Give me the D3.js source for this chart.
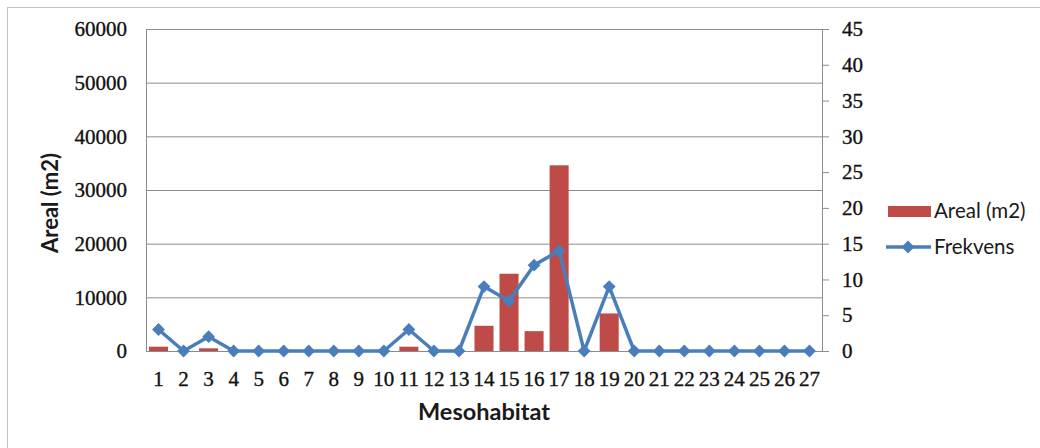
<!DOCTYPE html>
<html>
<head>
<meta charset="utf-8">
<script src="https://cdn.jsdelivr.net/npm/d3@7/dist/d3.min.js"></script>
<style>
  html, body { margin: 0; padding: 0; background: #fff; }
  svg { display: block; }
</style>
</head>
<body>
<svg id="chart" width="1040" height="448"></svg>
<script>
// Mesohabitat categories 1..27
const categories = ["1","2","3","4","5","6","7","8","9","10","11","12","13","14","15","16","17","18","19","20","21","22","23","24","25","26","27"];
// Area per mesohabitat (m2) - bars, left axis
const areal = [800,0,500,0,0,0,0,0,0,0,800,0,0,4700,14400,3700,34600,0,7000,0,0,0,0,0,0,0,0];
// Frequency per mesohabitat - line, right axis
const frekvens = [3,0,2,0,0,0,0,0,0,0,3,0,0,9,7,12,14,0,9,0,0,0,0,0,0,0,0];
// Axis tick values
const leftTicks = [0,10000,20000,30000,40000,50000,60000];
const rightTicks = [0,5,10,15,20,25,30,35,40,45];

const svg = d3.select("#chart");
const plot = { left: 146, right: 822, top: 29, bottom: 351 };

const barColor = "#be4b48";
const lineColor = "#4a7ebb";
const gridColor = "#8c8c8c";
const tickFont = "'Liberation Serif', serif";
const titleFont = "Lato, 'Open Sans', sans-serif";

// outer chart frame
svg.append("rect")
  .attr("x", 7.5).attr("y", 7.5)
  .attr("width", 1045).attr("height", 460)
  .attr("fill", "#fff").attr("stroke", "#c4c4c4").attr("stroke-width", 1);

const x = d3.scaleBand()
  .domain(categories)
  .range([plot.left, plot.right])
  .paddingInner(0.24)
  .paddingOuter(0.12);

const yL = d3.scaleLinear().domain([0, 60000]).range([plot.bottom, plot.top]);
const yR = d3.scaleLinear().domain([0, 45]).range([plot.bottom, plot.top]);

// tick label styling shared by all three axes
const styleTicks = sel => sel
  .attr("font-family", tickFont).attr("font-size", 21)
  .attr("fill", "#111").attr("stroke", "#111").attr("stroke-width", 0.35);

// horizontal gridlines at left-axis ticks
svg.append("g")
  .attr("transform", `translate(${plot.left},0)`)
  .call(d3.axisLeft(yL).tickValues(leftTicks).tickSize(-(plot.right - plot.left)).tickFormat(""))
  .call(g => g.select(".domain").remove())
  .call(g => g.selectAll("line").attr("stroke", gridColor).attr("stroke-width", 1));

// bars
svg.append("g").selectAll("rect")
  .data(categories)
  .join("rect")
  .attr("x", d => x(d))
  .attr("width", x.bandwidth())
  .attr("y", (d, i) => yL(areal[i]))
  .attr("height", (d, i) => yL(0) - yL(areal[i]))
  .attr("fill", barColor);

// left axis
const gL = svg.append("g")
  .attr("transform", `translate(${plot.left},0)`)
  .call(d3.axisLeft(yL).tickValues(leftTicks).tickSize(0).tickPadding(19).tickFormat(d3.format("d")));
gL.select(".domain").attr("stroke", gridColor);
styleTicks(gL.selectAll("text"));

// right axis
const gR = svg.append("g")
  .attr("transform", `translate(${plot.right},0)`)
  .call(d3.axisRight(yR).tickValues(rightTicks).tickSize(7).tickPadding(13));
gR.select(".domain").attr("stroke", gridColor);
gR.selectAll("line").attr("stroke", gridColor);
styleTicks(gR.selectAll("text"));

// bottom axis
const gB = svg.append("g")
  .attr("transform", `translate(0,${plot.bottom})`)
  .call(d3.axisBottom(x).tickSize(0).tickPadding(20));
gB.select(".domain").attr("stroke", gridColor);
styleTicks(gB.selectAll("text"));

// frequency line
const cx = d => x(d) + x.bandwidth() / 2;
const line = d3.line()
  .x((d, i) => cx(categories[i]))
  .y(d => yR(d));
svg.append("path")
  .datum(frekvens)
  .attr("d", line)
  .attr("fill", "none")
  .attr("stroke", lineColor)
  .attr("stroke-width", 3.5)
  .attr("stroke-linejoin", "round");

const diamond = d3.symbol().type(d3.symbolDiamond2).size(105);
svg.append("g").selectAll("path")
  .data(frekvens)
  .join("path")
  .attr("d", diamond)
  .attr("transform", (d, i) => `translate(${cx(categories[i])},${yR(d)})`)
  .attr("fill", lineColor);

// axis titles
svg.append("text")
  .attr("transform", `translate(58,${(plot.top + plot.bottom) / 2 + 13}) rotate(-90)`)
  .attr("text-anchor", "middle")
  .attr("font-family", titleFont).attr("font-weight", 700).attr("font-size", 22)
  .attr("fill", "#1a1a1a")
  .text("Areal (m2)");

svg.append("text")
  .attr("x", (plot.left + plot.right) / 2)
  .attr("y", 420)
  .attr("text-anchor", "middle")
  .attr("font-family", titleFont).attr("font-weight", 700).attr("font-size", 23.5)
  .attr("fill", "#1a1a1a")
  .text("Mesohabitat");

// legend
const legend = svg.append("g").attr("font-family", titleFont).attr("font-size", 20.5).attr("fill", "#1a1a1a");
legend.append("rect").attr("x", 888).attr("y", 206).attr("width", 43).attr("height", 11).attr("fill", barColor);
legend.append("text").attr("x", 934).attr("y", 211).attr("dy", "0.35em").text("Areal (m2)");
legend.append("line").attr("x1", 886).attr("x2", 931).attr("y1", 247).attr("y2", 247)
  .attr("stroke", lineColor).attr("stroke-width", 3.5);
legend.append("path").attr("d", diamond).attr("transform", "translate(908,247)").attr("fill", lineColor);
legend.append("text").attr("x", 934).attr("y", 247).attr("dy", "0.35em").text("Frekvens");
</script>
</body>
</html>
